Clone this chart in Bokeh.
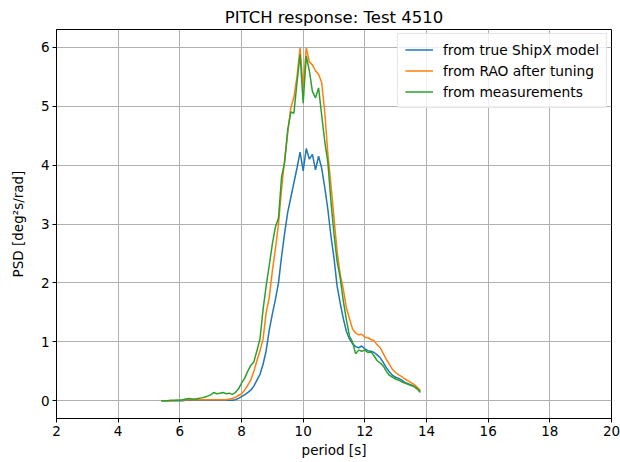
from bokeh.plotting import figure
from bokeh.models import Range1d, FixedTicker, Legend, LegendItem
from bokeh.embed import file_html
from bokeh.resources import INLINE

period = [5.4, 5.5, 5.6, 5.7, 5.8, 5.9, 6.0, 6.1, 6.2, 6.3, 6.4, 6.5, 6.6, 6.7, 6.8, 6.9,
          7.0, 7.1, 7.2, 7.3, 7.4, 7.5, 7.6, 7.7, 7.8, 7.9, 8.0, 8.1, 8.2, 8.3, 8.4, 8.5,
          8.6, 8.7, 8.8, 8.9, 9.0, 9.1, 9.2, 9.3, 9.4, 9.5, 9.6, 9.7, 9.8, 9.9, 10.0, 10.1,
          10.2, 10.3, 10.4, 10.5, 10.6, 10.7, 10.8, 10.9, 11.0, 11.1, 11.2, 11.3, 11.4, 11.5,
          11.6, 11.7, 11.8, 11.9, 12.0, 12.1, 12.2, 12.3, 12.4, 12.5, 12.6, 12.7, 12.8, 12.9,
          13.0, 13.1, 13.2, 13.3, 13.4, 13.5, 13.6, 13.7, 13.8]

psd_shipx = [0.00, 0.00, 0.00, 0.00, 0.00, 0.00, 0.00, 0.00, 0.01, 0.01, 0.01, 0.01, 0.01, 0.01, 0.01, 0.01,
             0.01, 0.01, 0.01, 0.01, 0.01, 0.01, 0.01, 0.01, 0.02, 0.04, 0.07, 0.10, 0.14, 0.18, 0.25, 0.35,
             0.45, 0.62, 0.85, 1.20, 1.47, 1.72, 2.00, 2.45, 2.85, 3.20, 3.45, 3.70, 3.95, 4.22, 3.90, 4.28,
             4.10, 4.18, 3.92, 4.15, 3.95, 3.62, 3.25, 2.80, 2.42, 1.95, 1.66, 1.40, 1.18, 1.05,
             0.97, 0.92, 0.90, 0.93, 0.88, 0.85, 0.84, 0.82, 0.78, 0.73, 0.65, 0.56, 0.49, 0.43,
             0.40, 0.38, 0.35, 0.31, 0.29, 0.27, 0.25, 0.21, 0.16]

psd_rao = [0.00, 0.00, 0.00, 0.00, 0.00, 0.01, 0.01, 0.01, 0.02, 0.02, 0.02, 0.02, 0.02, 0.02, 0.02, 0.02,
           0.02, 0.02, 0.02, 0.02, 0.02, 0.02, 0.03, 0.04, 0.06, 0.09, 0.12, 0.18, 0.26, 0.35, 0.50, 0.68,
           0.85, 1.05, 1.50, 1.75, 2.20, 2.58, 3.00, 3.60, 4.10, 4.55, 4.97, 5.15, 5.50, 5.99, 5.30, 5.99,
           5.75, 5.70, 5.60, 5.54, 5.40, 4.90, 4.20, 3.67, 3.10, 2.54, 2.15, 1.90, 1.58, 1.40,
           1.22, 1.15, 1.12, 1.13, 1.08, 1.07, 1.04, 1.02, 0.95, 0.90, 0.80, 0.70, 0.62, 0.53,
           0.48, 0.44, 0.41, 0.37, 0.34, 0.31, 0.28, 0.23, 0.18]

psd_meas = [0.00, 0.00, 0.00, 0.01, 0.01, 0.01, 0.01, 0.02, 0.03, 0.04, 0.03, 0.03, 0.04, 0.05, 0.06, 0.08,
            0.10, 0.14, 0.12, 0.13, 0.14, 0.12, 0.13, 0.11, 0.14, 0.20, 0.30, 0.38, 0.50, 0.60, 0.66, 0.85,
            1.05, 1.55, 1.95, 2.30, 2.66, 2.95, 3.10, 3.80, 4.05, 4.60, 4.90, 4.88, 5.40, 5.88, 5.05, 5.85,
            5.60, 5.25, 5.14, 5.31, 4.85, 4.40, 4.05, 3.39, 2.83, 2.37, 2.09, 1.70, 1.38, 1.10,
            1.00, 0.80, 0.86, 0.84, 0.86, 0.82, 0.83, 0.76, 0.68, 0.64, 0.59, 0.50, 0.43, 0.40,
            0.37, 0.35, 0.32, 0.30, 0.28, 0.26, 0.24, 0.20, 0.14]

series_labels = ["from true ShipX model", "from RAO after tuning", "from measurements"]
series_colors = ["#1f77b4", "#ff7f0e", "#2ca02c"]
x_ticks = [2, 4, 6, 8, 10, 12, 14, 16, 18, 20]
y_ticks = [0, 1, 2, 3, 4, 5, 6]

FONT = "DejaVu Sans"

p = figure(width=620, height=462, output_backend="svg", toolbar_location=None,
           x_range=Range1d(2, 20), y_range=Range1d(-0.3, 6.3),
           min_border_left=56, min_border_right=9, min_border_bottom=44, min_border_top=29)

p.title.text = "PITCH response: Test 4510"
p.title.align = "center"
p.title.text_font = FONT
p.title.text_font_size = "16.5px"
p.title.text_font_style = "normal"
p.title.text_color = "black"
p.title.standoff = 6

renderers = []
for ys, c in zip([psd_shipx, psd_rao, psd_meas], series_colors):
    r = p.line(period, ys, line_color=c, line_width=1.5)
    renderers.append(r)

p.xaxis.ticker = FixedTicker(ticks=x_ticks)
p.yaxis.ticker = FixedTicker(ticks=y_ticks)
p.xaxis.axis_label = "period [s]"
p.yaxis.axis_label = "PSD [deg²s/rad]"
for ax in [p.xaxis[0], p.yaxis[0]]:
    ax.axis_label_text_font = FONT
    ax.axis_label_text_font_size = "13.5px"
    ax.axis_label_text_font_style = "normal"
    ax.axis_label_text_color = "black"
    ax.major_label_text_font = FONT
    ax.major_label_text_font_size = "13.5px"
    ax.major_label_text_color = "black"
    ax.axis_line_color = "black"
    ax.major_tick_line_color = "black"
    ax.major_tick_in = 0
    ax.major_tick_out = 4
    ax.minor_tick_line_color = None
    ax.major_label_standoff = 3
p.xaxis.axis_label_standoff = 3
p.yaxis.axis_label_standoff = 12

p.xgrid.grid_line_color = "#b0b0b0"
p.ygrid.grid_line_color = "#b0b0b0"
p.xgrid.grid_line_width = 1
p.ygrid.grid_line_width = 1
p.outline_line_color = "black"
p.outline_line_width = 1
p.background_fill_color = "white"
p.border_fill_color = "white"

legend = Legend(items=[LegendItem(label=l, renderers=[r]) for l, r in zip(series_labels, renderers)],
                location="top_right")
legend.label_text_font = FONT
legend.label_text_font_size = "13.8px"
legend.label_text_color = "black"
legend.glyph_width = 28
legend.label_standoff = 10
legend.padding = 7
legend.spacing = 4
legend.margin = 4
legend.label_height = 17
legend.glyph_height = 17
legend.border_line_color = "#cccccc"
legend.background_fill_alpha = 0.8
p.add_layout(legend)

open("out.html", "w").write(file_html(p, INLINE))
